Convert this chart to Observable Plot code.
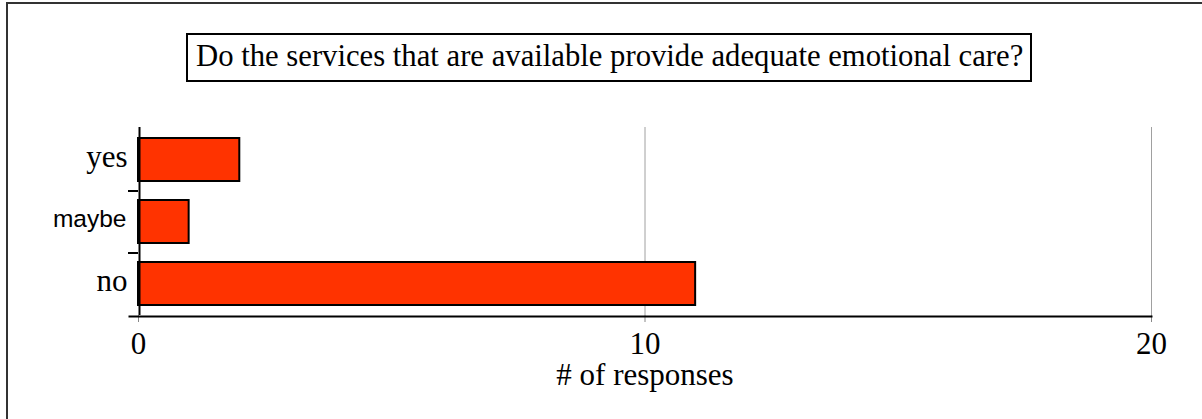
<!DOCTYPE html>
<html>
<head>
<meta charset="utf-8">
<script src="https://cdn.jsdelivr.net/npm/d3@7"></script>
<script src="https://cdn.jsdelivr.net/npm/@observablehq/plot@0.6"></script>
<style>
  html, body { margin: 0; padding: 0; background: #fff; overflow: hidden; }
  #wrap { position: relative; width: 1202px; height: 419px; background: #fff; }
  #frame { position: absolute; left: 6px; top: 2px; width: 1210px; height: 430px; border-top: 2px solid #333; border-left: 2px solid #333; box-sizing: border-box; }
  #title { position: absolute; left: 186px; top: 33px; width: 846px; height: 49px; border: 2px solid #000; box-sizing: border-box;
           font-family: "Liberation Serif", serif; font-size: 30.7px; line-height: 42px; text-align: left; padding-left: 8px;
           white-space: nowrap; color: #000; background: #fff; }
  #chart { position: absolute; left: 0; top: 100px; }
</style>
</head>
<body>
<div id="wrap">
  <div id="frame"></div>
  <div id="title"></div>
  <div id="chart"></div>
</div>
<script>
const titleText = "Do the services that are available provide adequate emotional care?";
const categories = ["yes", "maybe", "no"];
const counts = [2, 1, 11];
const xTicks = [0, 10, 20];
const gridTicks = [10, 20];
const xLabel = "# of responses";

document.getElementById("title").textContent = titleText;

const data = categories.map((c, i) => ({answer: c, count: counts[i]}));
const serifCats = categories.filter(c => c !== "maybe");
const sansCats = categories.filter(c => c === "maybe");

const chart = Plot.plot({
  width: 1202,
  height: 319,
  marginLeft: 138,
  marginRight: 51,
  marginTop: 29,
  marginBottom: 104,
  style: {background: "transparent", fontFamily: "Liberation Serif", color: "#000", overflow: "visible"},
  x: {domain: [0, 20]},
  y: {domain: categories, paddingInner: 0.3, paddingOuter: 0.15},
  marks: [
    Plot.gridX(gridTicks, {stroke: "#a0a0a0", strokeOpacity: 1, strokeWidth: 1, insetTop: -2}),
    Plot.barX(data, {x: "count", y: "answer", fill: "#ff3300", stroke: "#000", strokeWidth: 2}),
    Plot.ruleX([0], {stroke: "#000", strokeWidth: 2, insetTop: -2, dx: 1}),
    Plot.axisX({ticks: xTicks, tickSize: 7, tickPadding: 9, stroke: "#888", fill: "#000", fontSize: 31, label: null}),
    Plot.frame({anchor: "bottom", stroke: "#000", strokeWidth: 2, insetLeft: -9, dy: 1}),
    Plot.axisY({ticks: categories.slice(1), tickSize: 10, tickFormat: () => "", dy: -31, stroke: "#000", strokeWidth: 2, label: null}),
    Plot.text(serifCats, {y: d => d, x: 0, dx: -11, dy: -3, textAnchor: "end", fontSize: 31, fontFamily: "Liberation Serif", fill: "#000"}),
    Plot.text(sansCats, {y: d => d, x: 0, dx: -12, dy: -3, textAnchor: "end", fontSize: 24.5, fontFamily: "Liberation Sans", fill: "#000"}),
    Plot.text([xLabel], {frameAnchor: "bottom", lineAnchor: "middle", dy: 60, fontSize: 31, fontFamily: "Liberation Serif", fill: "#000"})
  ]
});
document.getElementById("chart").appendChild(chart);
</script>
</body>
</html>
